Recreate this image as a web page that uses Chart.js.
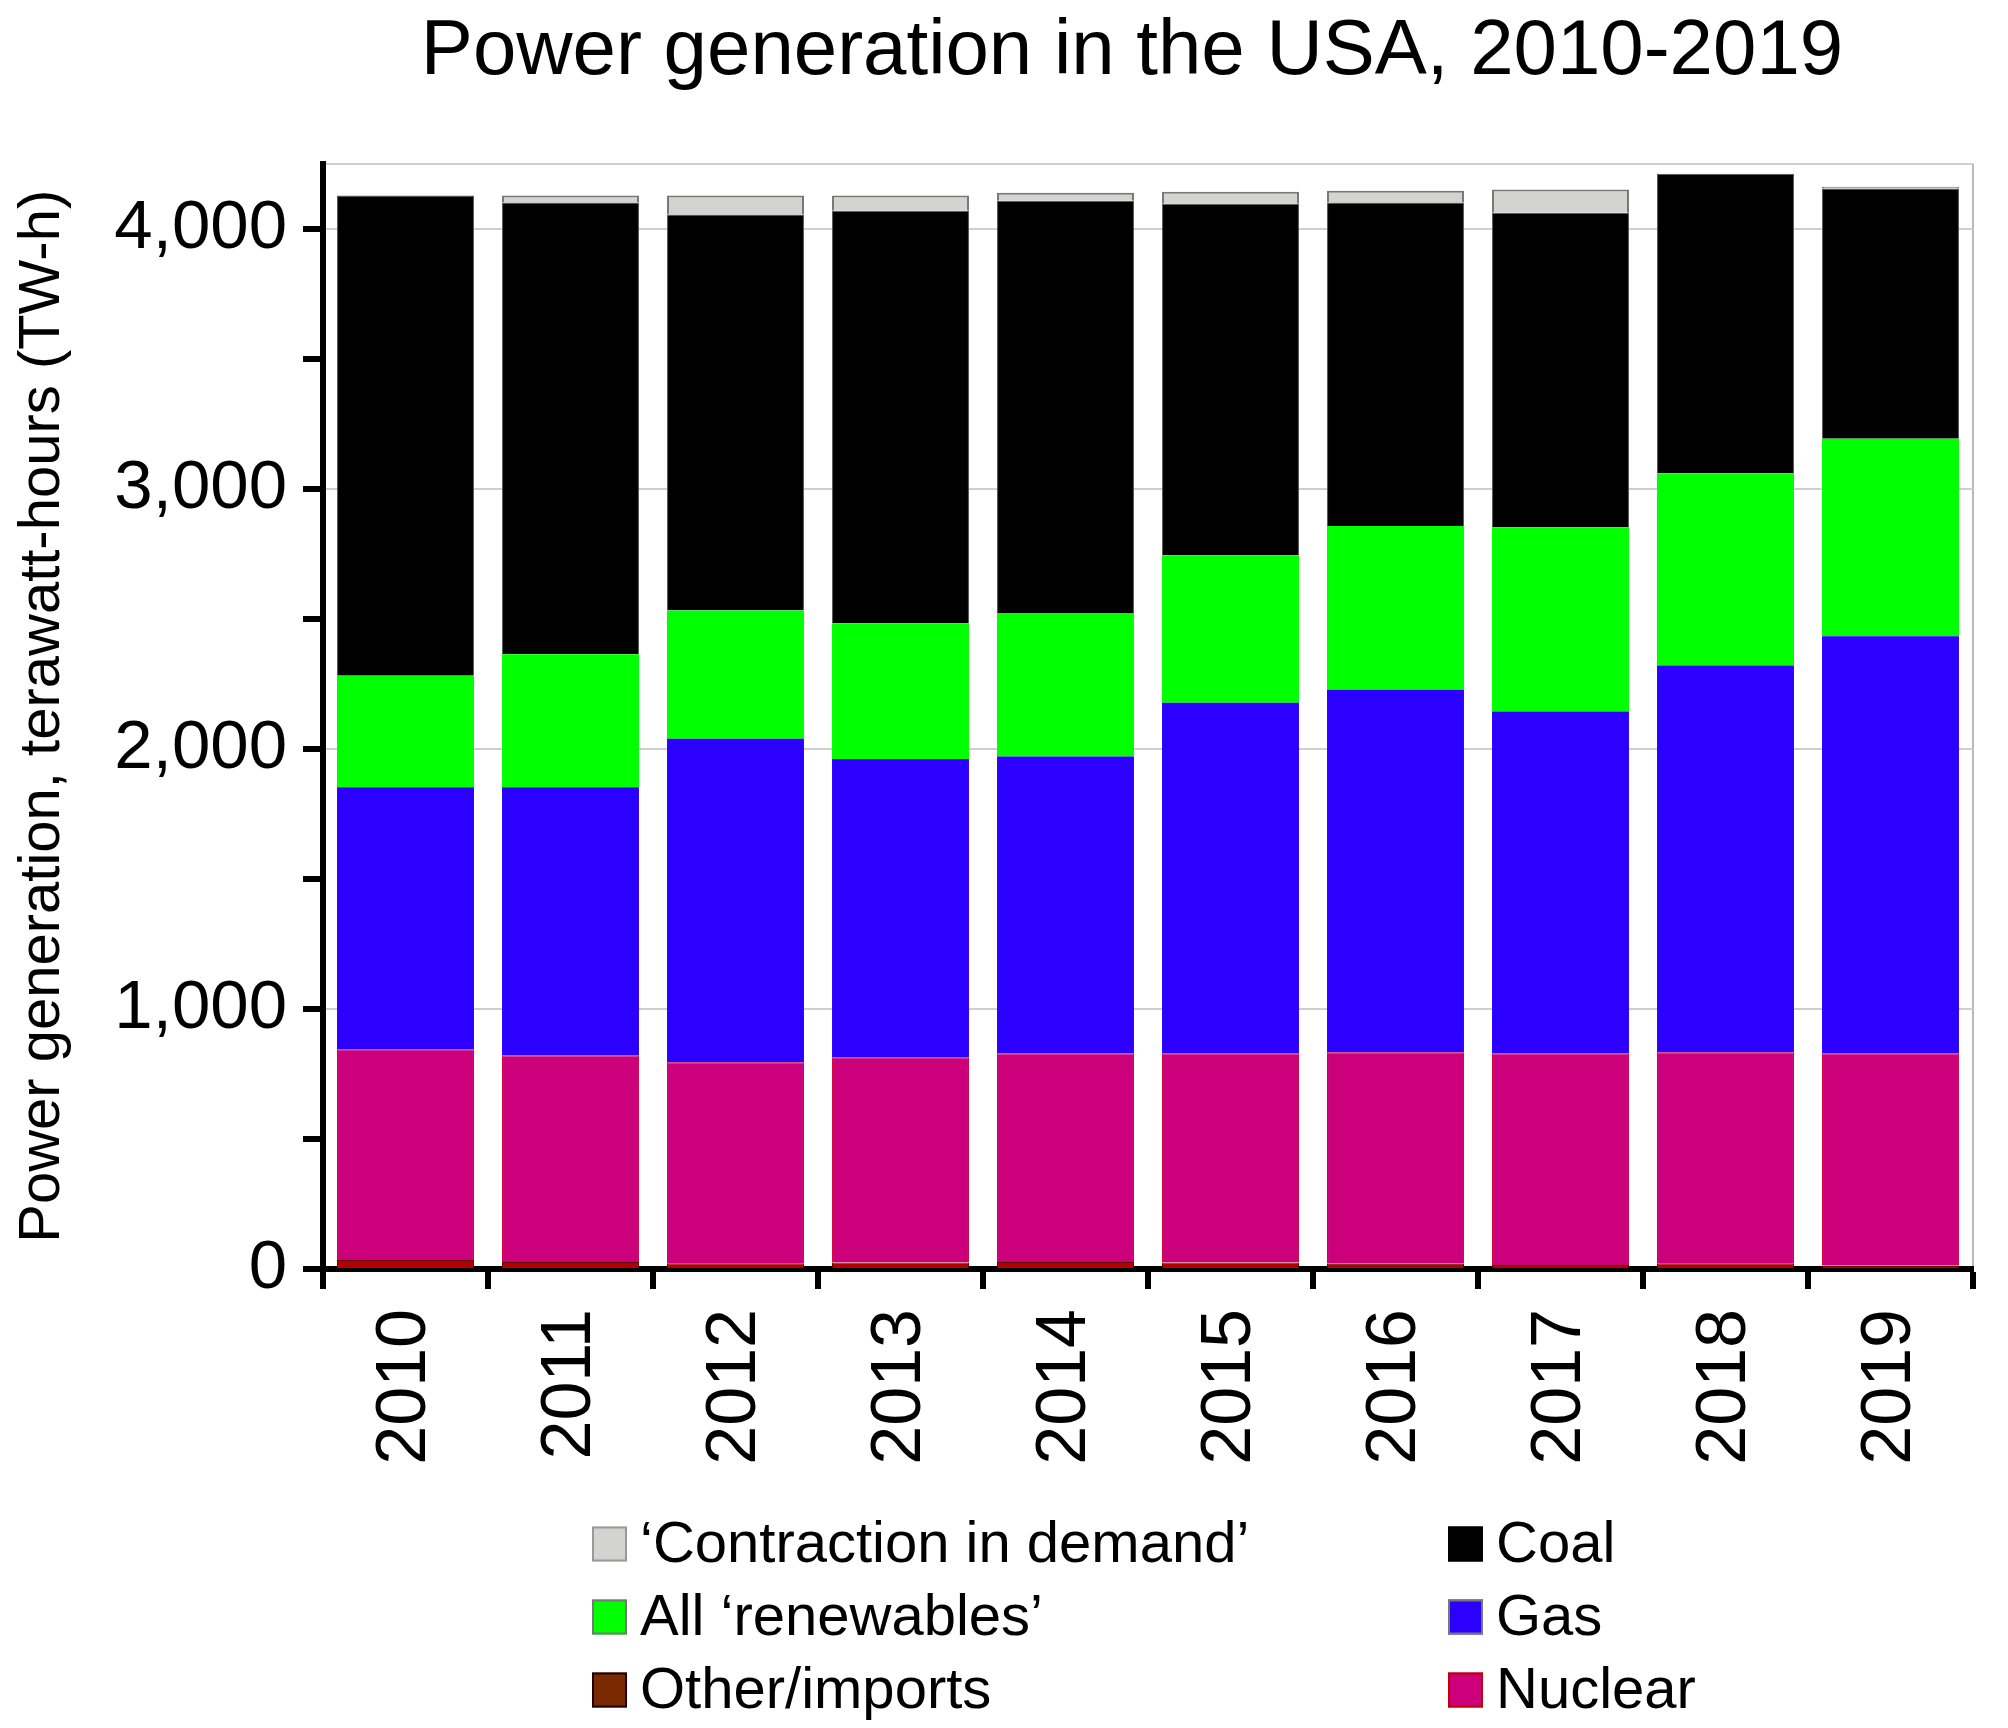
<!DOCTYPE html>
<html>
<head>
<meta charset="utf-8">
<script src="https://cdn.jsdelivr.net/npm/chart.js@4.4.1/dist/chart.umd.min.js"></script>
<style>
  html, body { margin: 0; padding: 0; background: #fff; }
  canvas { display: block; }
</style>
</head>
<body>
<canvas id="myChart" width="2008" height="1728"></canvas>
<script>
// values in TW-h
var years = ["2010", "2011", "2012", "2013", "2014", "2015", "2016", "2017", "2018", "2019"];
var otherImports = [35, 27, 22, 25, 27, 25, 20, 15, 22, 13];
var nuclear = [810, 794, 773, 789, 802, 804, 813, 814, 811, 816];
var gas = [1007, 1031, 1244, 1147, 1141, 1348, 1394, 1314, 1487, 1604];
var renewables = [429, 512, 493, 522, 552, 567, 630, 709, 739, 759];
var coal = [1846, 1736, 1522, 1586, 1585, 1352, 1243, 1209, 1152, 962];
var contraction = [0, 27, 73, 58, 31, 46, 46, 89, 0, 7];
var yTicks = [0, 500, 1000, 1500, 2000, 2500, 3000, 3500, 4000];
var yLabelled = [0, 1000, 2000, 3000, 4000];
var yMax = 4250;

var FONT = "'Liberation Sans', Arial, sans-serif";
Chart.defaults.font.family = FONT;
Chart.defaults.color = "#000";

// legend drawn as two columns, like the original
var legendLayout = [
  { ds: 5, col: 0, row: 0 }, { ds: 4, col: 1, row: 0 },
  { ds: 3, col: 0, row: 1 }, { ds: 2, col: 1, row: 1 },
  { ds: 0, col: 0, row: 2 }, { ds: 1, col: 1, row: 2 }
];
var gridLegend = {
  id: "gridLegend",
  afterLayout: function (chart) {
    // title sits a little left of the plot centre in the original
    if (chart.titleBlock) {
      chart.titleBlock.left -= 16;
      chart.titleBlock.right -= 16;
    }
  },
  afterDraw: function (chart) {
    var ctx = chart.ctx;
    var colX = [592, 1448], rowY = [1544, 1617, 1690], box = 35;
    ctx.save();
    ctx.font = "58px " + FONT;
    ctx.textBaseline = "middle";
    ctx.textAlign = "left";
    legendLayout.forEach(function (it) {
      var ds = chart.data.datasets[it.ds];
      var x = colX[it.col], y = rowY[it.row];
      ctx.fillStyle = ds.legendColor || ds.backgroundColor;
      ctx.fillRect(x, y - box / 2, box, box);
      ctx.lineWidth = 2;
      ctx.strokeStyle = ds.legendBorder || "#888";
      ctx.strokeRect(x + 1, y - box / 2 + 1, box - 2, box - 2);
      ctx.fillStyle = "#000";
      ctx.fillText(ds.label, x + 48, y + 2);
    });
    ctx.restore();
  }
};

var ctx = document.getElementById("myChart").getContext("2d");
var myChart = new Chart(ctx, {
  type: "bar",
  data: {
    labels: years,
    datasets: [
      { label: "Other/imports", data: otherImports, backgroundColor: "#b30000",
        legendColor: "#7a2a00", legendBorder: "#200", borderColor: "#5a0000", borderWidth: 1 },
      { label: "Nuclear", data: nuclear, backgroundColor: "#cc007a",
        legendBorder: "#c00000", borderColor: "#d0003a", borderWidth: 1 },
      { label: "Gas", data: gas, backgroundColor: "#2b00ff", legendBorder: "#777" },
      { label: "All \u2018renewables\u2019", data: renewables, backgroundColor: "#00ff00", legendBorder: "#777" },
      { label: "Coal", data: coal, backgroundColor: "#000000", borderColor: "#555", borderWidth: 1, legendBorder: "#000" },
      { label: "\u2018Contraction in demand\u2019", data: contraction, backgroundColor: "#d3d3cf",
        borderColor: "#777", borderWidth: 2, borderSkipped: "bottom", legendBorder: "#999" }
    ]
  },
  options: {
    responsive: false,
    devicePixelRatio: 1,
    animation: false,
    layout: { padding: { left: 0, right: 35, top: 0, bottom: 0 } },
    datasets: { bar: { barPercentage: 0.83, categoryPercentage: 1.0 } },
    plugins: {
      legend: { display: false },
      tooltip: { enabled: false },
      title: {
        display: true,
        fullSize: false,
        text: "Power generation in the USA, 2010-2019",
        font: { size: 78, weight: "normal" },
        color: "#000",
        padding: { top: 6, bottom: 64 }
      }
    },
    scales: {
      x: {
        stacked: true,
        offset: true,
        afterFit: function (s) { s.height = 459; },
        border: { color: "#000", width: 6 },
        grid: {
          offset: true,
          drawOnChartArea: true,
          color: function (c) { return c.type === "tick" ? "rgba(0,0,0,0)" : "#bbbbbb"; },
          lineWidth: 2,
          tickColor: "#000",
          tickLength: 20,
          tickWidth: 6
        },
        ticks: {
          minRotation: 90,
          maxRotation: 90,
          padding: 20,
          font: { size: 70 },
          color: "#000"
        }
      },
      y: {
        stacked: true,
        min: 0,
        max: yMax,
        afterFit: function (s) { s.width = 323; },
        afterBuildTicks: function (s) {
          s.ticks = yTicks.map(function (v) { return { value: v }; }).concat([{ value: yMax }]);
        },
        border: { color: "#000", width: 6 },
        grid: {
          color: function (c) {
            if (!c.tick) return "rgba(0,0,0,0)";
            var v = c.tick.value;
            return (yLabelled.indexOf(v) >= 0 || v === yMax) ? "#cfcfcf" : "rgba(0,0,0,0)";
          },
          lineWidth: 2,
          tickColor: function (c) { return c.tick && c.tick.value === yMax ? "rgba(0,0,0,0)" : "#000"; },
          tickLength: 20,
          tickWidth: 6
        },
        ticks: {
          padding: 16,
          font: { size: 69 },
          color: "#000",
          callback: function (v) { return yLabelled.indexOf(v) >= 0 ? v.toLocaleString("en-US") : ""; }
        },
        title: {
          display: true,
          text: "Power generation, terawatt-hours (TW-h)",
          font: { size: 58 },
          color: "#000",
          padding: { top: 8, bottom: 0 }
        }
      }
    }
  },
  plugins: [gridLegend]
});
</script>
</body>
</html>
